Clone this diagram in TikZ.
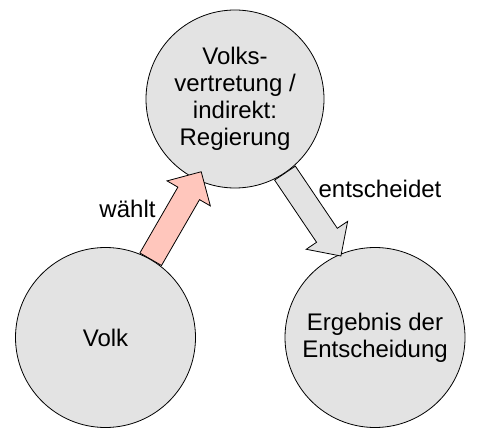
\documentclass[tikz,border=0pt]{standalone}
\usepackage{fontspec}
\setmainfont{Liberation Sans}
\usetikzlibrary{calc}
\definecolor{circfill}{RGB}{227,227,227}
\definecolor{pinkfill}{RGB}{255,198,188}
\begin{document}
\begin{tikzpicture}[x=1pt,y=1pt,
  circ/.style={circle,draw=black,line width=0.8pt,fill=circfill,minimum size=#1,inner sep=0pt,align=center,font=\fontsize{24}{27}\selectfont},
  blockarrow/.style={draw=black,line width=0.8pt,line join=miter},
  lbl/.style={font=\fontsize{24}{27}\selectfont,anchor=base,inner sep=0pt}]
\useasboundingbox (0,0) rectangle (481,439);
\node[circ=178pt] (gov) at (235,340) {Volks-\\vertretung /\\indirekt:\\Regierung};
\node[circ=180pt] (volk) at (105.5,101.5) {Volk};
\node[circ=180pt] (erg) at (375,101.5) {Ergebnis der\\Entscheidung};
\begin{scope}[shift={(volk.60)},rotate=60]
\draw[blockarrow,fill=pinkfill] (0,-12.5) -- (76,-12.5) -- (76,-25) -- (101,0) -- (76,25) -- (76,12.5) -- (0,12.5) -- cycle;
\end{scope}
\begin{scope}[shift={(gov.-56)},rotate=-56]
\draw[blockarrow,fill=circfill] (0,-12.5) -- (75,-12.5) -- (75,-25) -- (100,0) -- (75,25) -- (75,12.5) -- (0,12.5) -- cycle;
\end{scope}
\node[lbl] (waehlt) at (127.5,221) {wählt};
\node[lbl] (ents) at (380,241) {entscheidet};
\end{tikzpicture}
\end{document}
